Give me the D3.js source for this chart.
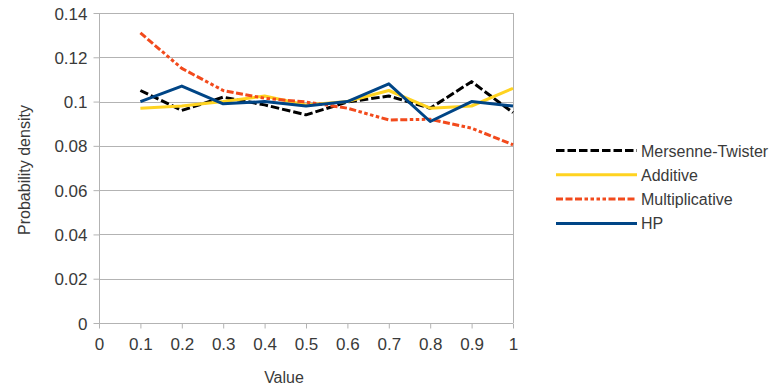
<!DOCTYPE html>
<html><head><meta charset="utf-8">
<script src="https://cdn.jsdelivr.net/npm/d3@7"></script>
<style>body{margin:0;background:#fff;} svg{display:block;font-family:"Liberation Sans",Arial,sans-serif;}</style>
</head><body>
<svg id="c" width="777" height="392"></svg>
<script>
const xValues = [0.1,0.2,0.3,0.4,0.5,0.6,0.7,0.8,0.9,1.0];
const mersenne = [0.105,0.096,0.102,0.0985,0.094,0.0998,0.1025,0.097,0.109,0.095];
const additive = [0.097,0.098,0.100,0.1025,0.0985,0.100,0.105,0.097,0.098,0.106];
const multiplicative = [0.131,0.115,0.105,0.1015,0.0998,0.097,0.0917,0.092,0.088,0.0805];
const hp = [0.100,0.107,0.099,0.100,0.098,0.100,0.108,0.091,0.100,0.098];
const seriesNames = ["Mersenne-Twister","Additive","Multiplicative","HP"];
const xTicks = [0,0.1,0.2,0.3,0.4,0.5,0.6,0.7,0.8,0.9,1];
const yTicks = [0,0.02,0.04,0.06,0.08,0.1,0.12,0.14];

const series = [
  {name: seriesNames[0], values: mersenne, color: "#000000", dash: "8.5,3"},
  {name: seriesNames[1], values: additive, color: "#ffd320", dash: null},
  {name: seriesNames[2], values: multiplicative, color: "#f24a1c", dash: "7,2.5,7,2.5,7,2.5,3.5,2.5,3.5,2.5,3.5,2.5,3.5,2.5"},
  {name: seriesNames[3], values: hp, color: "#004586", dash: null}
];

const svg = d3.select("#c");
const L = 99, R = 513, T = 13, B = 323;
const x = d3.scaleLinear().domain([0,1]).range([L,R]);
const y = d3.scaleLinear().domain([0,0.14]).range([B,T]);
const grid = "#b3b3b3";
const txt = "#3a3a3a";

// gridlines
svg.append("g").selectAll("line").data(yTicks).join("line")
  .attr("x1", L).attr("x2", R)
  .attr("y1", d => Math.round(y(d))+0.5).attr("y2", d => Math.round(y(d))+0.5)
  .attr("stroke", grid).attr("stroke-width", 1);
// right border
svg.append("line").attr("x1", R+0.5).attr("x2", R+0.5).attr("y1", y(0.14)).attr("y2", B)
  .attr("stroke", grid);

// y axis
const yAxis = svg.append("g").attr("transform", `translate(${L+0.5},0)`)
  .call(d3.axisLeft(y).tickValues(yTicks).tickFormat(d => d3.format("~g")(+d.toFixed(2))).tickSize(6).tickPadding(6));
// x axis
const xAxis = svg.append("g").attr("transform", `translate(0,${Math.round(B)+0.5})`)
  .call(d3.axisBottom(x).tickValues(xTicks).tickFormat(d => d3.format("~g")(+d.toFixed(1))).tickSize(5).tickPadding(9));
[yAxis, xAxis].forEach(a => {
  a.selectAll("line").attr("stroke", grid);
  a.selectAll("text").attr("fill", txt).style("font-size", "17px").style("font-family", "'Liberation Sans',Arial,sans-serif");
});
yAxis.selectAll("text").attr("dy", "0.36em");
yAxis.select(".domain").remove();
svg.append("line").attr("x1", L+0.5).attr("x2", L+0.5).attr("y1", y(0.14)).attr("y2", B).attr("stroke", grid);
xAxis.select(".domain").remove();
svg.append("line").attr("x1", L).attr("x2", R).attr("y1", Math.round(B)+0.5).attr("y2", Math.round(B)+0.5).attr("stroke", grid);

// titles
svg.append("text").attr("x", 284).attr("y", 383).attr("text-anchor", "middle")
  .attr("fill", txt).style("font-size", "16px").text("Value");
svg.append("text").attr("transform", "translate(30,170) rotate(-90)").attr("text-anchor", "middle")
  .attr("fill", txt).style("font-size", "16px").text("Probability density");

// lines
const line = d3.line().x((d,i) => x(xValues[i])).y(d => y(d));
series.forEach(s => {
  svg.append("path").datum(s.values).attr("d", line)
    .attr("fill", "none").attr("stroke", s.color).attr("stroke-width", 3)
    .attr("stroke-linejoin", "round")
    .attr("stroke-dasharray", s.dash);
});

// legend
const lg = svg.append("g");
series.forEach((s, i) => {
  const yy = 150.5 + i*24.3;
  lg.append("line").attr("x1", 556).attr("x2", 637).attr("y1", yy).attr("y2", yy)
    .attr("stroke", s.color).attr("stroke-width", 3).attr("stroke-dasharray", s.dash);
  lg.append("text").attr("x", 641).attr("y", yy + 6).attr("fill", txt)
    .style("font-size", "16px").text(s.name);
});
</script>
</body></html>
